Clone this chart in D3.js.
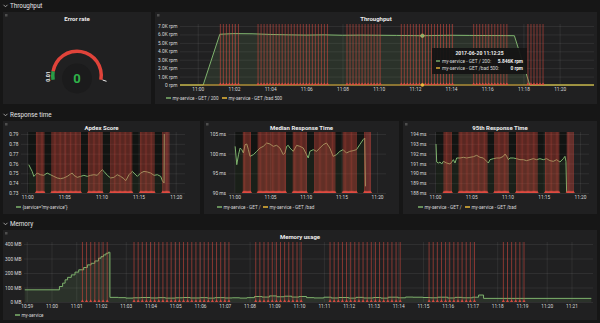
<!DOCTYPE html>
<html><head><meta charset="utf-8">
<script src="https://cdn.jsdelivr.net/npm/d3@7"></script>
<style>
body{margin:0;background:#161616;}
svg{display:block;font-family:Roboto,"Open Sans",Arial,sans-serif;}
</style>
</head><body>
<svg id="c" width="600" height="323"></svg>
<script>
// ---------- DATA (times are minutes after 2017-06-20 11:00) ----------
const errorRate = 0;
const gaugeMin = 0, gaugeMax = 0.1, gaugeThreshold = 0.01;

const tpTimes   = [-0.98, 0.3, 1.22, 2, 3, 4, 5, 6, 7, 8, 9, 10, 11, 12, 12.42, 13, 14, 15, 16, 17, 17.5, 18.35, 21.9];
const tpGet200  = [0, 0, 6.02, 6.1, 6.08, 6.0, 5.95, 5.92, 5.95, 5.9, 5.92, 5.9, 5.88, 5.86, 5.846, 5.87, 5.9, 5.88, 5.87, 5.86, 5.85, 0, 0];
const tpBadTimes = [-0.98, 21.9];
const tpBad500   = [0, 0];
const tpTicks = [0, 2, 4, 6, 8, 10, 12, 14, 16, 18, 20];
const tpYTicks = [0, 1, 2, 3, 4, 5, 6, 7];

const apdexTimes = [0.22,0.44,0.67,0.90,1.12,1.34,1.79,2.24,2.69,3.14,3.59,4.04,4.49,4.94,5.39,5.84,6.06,6.29,6.74,7.19,7.64,8.09,8.54,8.99,9.44,9.89,10.11,10.34,10.79,11.24,11.68,12.13,12.58,13.03,13.26,13.48,13.71,13.93,14.16,14.38,14.83,15.28,15.73,16.18,16.63,17.08,17.53,17.98,18.20,18.43,18.46];
const apdexValues = [0.7588,0.7554,0.7520,0.7469,0.7486,0.7503,0.7486,0.7480,0.7503,0.7486,0.7469,0.7453,0.7446,0.7453,0.7469,0.7493,0.7503,0.7480,0.7459,0.7469,0.7480,0.7469,0.7480,0.7486,0.7480,0.7520,0.7537,0.7520,0.7480,0.7453,0.7459,0.7486,0.7469,0.7446,0.7425,0.7453,0.7486,0.7503,0.7520,0.7503,0.7469,0.7503,0.7520,0.7514,0.7503,0.7480,0.7486,0.7469,0.7425,0.7402,0.7900];
const apdexYTicks = [0.73,0.74,0.75,0.76,0.77,0.78,0.79];

const medTimes = [0.10,0.33,0.57,0.80,1.03,1.26,1.49,1.73,1.96,2.19,2.66,3.12,3.59,4.05,4.52,4.99,5.45,5.92,6.38,6.85,7.08,7.32,7.55,7.78,8.25,8.72,9.18,9.65,10.11,10.35,10.58,11.05,11.51,11.98,12.45,12.91,13.38,13.84,14.31,14.78,15.24,15.71,16.17,16.64,17.11,17.57,18.04,18.27,18.37];
const medValues = [101.86,97.2,99.75,101.44,101.02,100.17,102.29,102.46,101.02,99.32,99.75,100.59,101.44,101.86,102.71,102.46,101.86,102.12,101.44,99.75,100.17,101.86,102.12,101.44,100.59,102.12,101.86,101.44,99.75,98.9,100.59,101.02,100.59,101.44,102.29,102.71,101.44,99.32,99.75,100.59,101.02,100.17,100.59,100.76,101.02,102.29,103.56,103.98,91.7];
const medYTicks = [90, 95, 100, 105];

const p95Times = [0.14,0.23,0.46,0.69,0.92,1.15,1.61,2.07,2.30,2.53,2.76,2.99,3.45,3.91,4.37,4.83,5.29,5.75,6.21,6.67,7.13,7.36,7.59,8.05,8.51,8.97,9.43,9.66,9.89,10.12,10.34,10.80,11.26,11.72,12.18,12.64,13.10,13.56,14.02,14.48,14.94,15.40,15.86,16.32,16.78,17.24,17.70,17.93,18.07,18.16];
const p95Values = [192.98,191.15,191.05,191.15,190.95,191.22,191.05,190.95,191.15,191.39,191.05,191.56,191.56,191.63,191.56,191.63,191.69,191.83,191.63,191.56,191.22,191.05,191.39,191.49,191.56,191.56,191.73,191.97,191.73,191.39,191.56,191.56,191.49,191.39,191.39,191.29,191.39,191.49,191.39,191.49,191.39,191.49,191.29,191.22,191.39,191.15,191.49,191.73,191.22,188.1];
const p95YTicks = [188,189,190,191,192,193,194];
const rtTicks = [0, 5, 10, 15, 20];

const memTimes  = [-1.08,0.32,0.45,0.55,0.65,0.8,0.95,1.1,1.3,1.45,1.6,1.75,1.9,2.0,2.1,2.2,2.3,2.36,2.7,3.0,3.3,3.6,4.0,4.3,4.6,5.0,5.3,5.6,6.0,6.3,6.6,7.0,7.3,7.6,7.9,8.2,8.5,8.8,9.1,9.4,9.7,10.0,10.3,10.6,11.0,11.3,11.6,12.0,12.3,12.6,13.0,13.3,13.6,14.0,14.3,14.6,15.0,15.3,15.6,16.0,16.3,16.6,17.0,17.25,17.45,21.8];
const memValues = [84,107,130,153,170,187,206,222,238,256,267,283,302,313,325,336,343,32,30,27,29,31,28,30,27,29,31,28,30,27,30,28,29,27,30,38,34,42,36,40,34,38,30,28,33,28,31,27,32,28,31,27,33,29,34,33,31,29,33,28,32,29,33,48,25,24];
const memYTicks = [0, 100, 200, 300, 400];
const memTicks = [-1,0,1,2,3,4,5,6,7,8,9,10,11,12,13,14,15,16,17,18,19,20,21];

// annotation events, seconds after 11:00
const annotationSecs = [75,85,95,105,115,125,135,
 200,210,220,230,240,250,260,270,280,290,300,310,320,330,340,350,360,370,380,390,400,410,420,430,
 495,505,515,525,535,545,555,565,575,585,595,605,
 675,685,695,705,715,725,735,745,755,765,775,785,795,805,815,825,835,845,
 915,925,935,945,955,965,975,985,995,1005,1015,1025,
 1095,1105,1115,1125,1135,1145];

const hoverMin = 12 + 25/60;

// ---------- RENDER ----------
const base = new Date(2017, 5, 20, 11, 0, 0).getTime();
const T = m => new Date(base + m * 60000);
const GREEN = "#7eb26d", YELLOW = "#eab839", RED = "#e24d42";
const TXT = "#d8d9da";
const AX_FS = 4.8, LEG_FS = 4.6;
const svg = d3.select("#c");
svg.append("rect").attr("width", 600).attr("height", 323).attr("fill", "#161616");

function rowHeader(y, text) {
  svg.append("path").attr("d", `M3.5,${y-1.2} L5.5,${y+0.8} L7.5,${y-1.2}`)
    .attr("fill", "none").attr("stroke", "#bbb").attr("stroke-width", 0.8);
  svg.append("text").attr("x", 10).attr("y", y).attr("dy", "0.35em")
    .attr("font-size", 6.3).attr("fill", "#e4e4e4").text(text);
}
function panel(x, y, w, h, title, titleY) {
  svg.append("rect").attr("x", x).attr("y", y).attr("width", w).attr("height", h).attr("fill", "#202021");
  svg.append("rect").attr("x", x + 2).attr("y", y + 2).attr("width", 2.5).attr("height", 2.5).attr("fill", "#4e4e4e");
  svg.append("text").attr("x", x + w / 2).attr("y", titleY).attr("dy", "0.35em")
    .attr("text-anchor", "middle").attr("font-size", 6).attr("font-weight", "bold")
    .attr("fill", "#ececec").text(title);
}
function legend(items, y) {
  items.forEach(it => {
    svg.append("line").attr("x1", it.x).attr("x2", it.x + 5).attr("y1", y).attr("y2", y)
      .attr("stroke", it.color).attr("stroke-width", 1.5);
    svg.append("text").attr("x", it.x + 6.5).attr("y", y).attr("dy", "0.35em")
      .attr("font-size", LEG_FS).attr("fill", TXT).text(it.label);
  });
}

function graph(o) {
  const x = d3.scaleTime().domain(o.tDomain.map(T)).range([o.x0, o.x1]);
  const y = d3.scaleLinear().domain(o.yDomain).range([o.y1, o.y0]);
  const g = svg.append("g");
  const xT = o.xTicks.map(T);
  if (o.band) {
    g.append("rect").attr("x", x(T(o.band[0]))).attr("y", o.y0 - 2)
      .attr("width", x(T(o.band[1])) - x(T(o.band[0]))).attr("height", o.y1 - o.y0 + 2)
      .attr("fill", "#121412");
  }
  const gy = g.append("g").attr("transform", `translate(${o.x0},0)`)
    .call(d3.axisLeft(y).tickValues(o.yTicks).tickSize(-(o.x1 - o.x0)).tickFormat(""));
  gy.select(".domain").remove();
  gy.selectAll("line").attr("stroke", "#fff").attr("stroke-opacity", 0.09).attr("stroke-width", 0.8);
  const gx = g.append("g").attr("transform", `translate(0,${o.y1})`)
    .call(d3.axisBottom(x).tickValues(xT).tickSize(-(o.y1 - o.y0 + 2)).tickFormat(""));
  gx.select(".domain").remove();
  gx.selectAll("line").attr("stroke", "#fff").attr("stroke-opacity", 0.09).attr("stroke-width", 0.8);

  o.series.forEach(s => {
    const pts = s.times.map((t, i) => [T(t), s.values[i]]);
    s.pts = pts;
    if (s.fill) {
      g.append("path").datum(pts)
        .attr("d", d3.area().x(d => x(d[0])).y0(o.y1).y1(d => y(d[1])).curve(s.curve || d3.curveLinear))
        .attr("fill", s.color).attr("fill-opacity", s.fill);
    }
  });
  o.series.forEach(s => {
    g.append("path").datum(s.pts)
      .attr("d", d3.line().x(d => x(d[0])).y(d => y(d[1])).curve(s.curve || d3.curveLinear))
      .attr("fill", "none").attr("stroke", s.color).attr("stroke-width", 1);
  });
  const ann = annotationSecs.map(s => new Date(base + s * 1000));
  g.append("g").selectAll("line").data(ann).join("line")
    .attr("x1", d => x(d)).attr("x2", d => x(d)).attr("y1", o.y0 - 2).attr("y2", o.y1)
    .attr("stroke", RED).attr("stroke-opacity", o.annOpacity).attr("stroke-width", o.annWidth || 0.9);
  g.append("g").selectAll("path").data(ann).join("path")
    .attr("d", d => `M${x(d)-1.6},${o.y1} L${x(d)},${o.y1-2.6} L${x(d)+1.6},${o.y1} Z`)
    .attr("fill", RED).attr("fill-opacity", 0.9);

  const ay = g.append("g").attr("transform", `translate(${o.x0},0)`)
    .call(d3.axisLeft(y).tickValues(o.yTicks).tickSize(0).tickPadding(o.yPad || 2.5).tickFormat(o.yFmt));
  ay.select(".domain").remove();
  ay.attr("font-size", AX_FS).attr("font-family", null).attr("color", TXT);
  const ax = g.append("g").attr("transform", `translate(0,${o.y1})`)
    .call(d3.axisBottom(x).tickValues(xT).tickSize(0).tickPadding(o.xPad || 2.5).tickFormat(d3.timeFormat("%H:%M")));
  ax.select(".domain").remove();
  ax.attr("font-size", AX_FS).attr("font-family", null).attr("color", TXT);
  return { x, y, g };
}

// ----- Row: Throughput -----
rowHeader(6, "Throughput");
panel(3, 12, 148, 92, "Error rate", 19);
panel(155, 12, 442, 92, "Throughput", 19);

// Gauge
(function () {
  const cx = 77, cy = 75.5;
  const a = d3.scaleLinear().domain([gaugeMin, gaugeMax]).range([-100 * Math.PI / 180, 100 * Math.PI / 180]);
  const arc = d3.arc().innerRadius(22.5).outerRadius(26);
  const gg = svg.append("g").attr("transform", `translate(${cx},${cy})`);
  gg.append("circle").attr("cx", 0).attr("cy", 3).attr("r", 15).attr("fill", "#1b1b1c");
  gg.append("path").attr("d", arc({ startAngle: a(gaugeMin), endAngle: a(gaugeThreshold) })).attr("fill", "#299c46");
  gg.append("path").attr("d", arc({ startAngle: a(gaugeThreshold), endAngle: a(gaugeMax) })).attr("fill", "#e0433a");
  const ang = a(gaugeMax);
  gg.append("line")
    .attr("x1", 26 * Math.sin(ang)).attr("y1", -26 * Math.cos(ang))
    .attr("x2", 30 * Math.sin(ang)).attr("y2", -30 * Math.cos(ang) + 0.6)
    .attr("stroke", "#eee").attr("stroke-width", 1);
  gg.append("text").attr("transform", "translate(-29,1) rotate(-90)")
    .attr("text-anchor", "middle").attr("dy", "0.35em").attr("font-size", 5.3)
    .attr("font-weight", "bold").attr("fill", "#eee").text(gaugeThreshold.toString());
  gg.append("text").attr("x", 0).attr("y", 3).attr("dy", "0.36em").attr("text-anchor", "middle")
    .attr("font-size", 13).attr("font-weight", "bold").attr("fill", "#2fb24a").text(errorRate);
})();

// Throughput graph
const tp = graph({
  x0: 180, x1: 594, y0: 26, y1: 85, tDomain: [-0.98, 21.9], yDomain: [0, 7],
  yTicks: tpYTicks, yFmt: d => d === 0 ? "0 rpm" : d.toFixed(1) + "K rpm", xTicks: tpTicks,
  series: [
    { times: tpTimes, values: tpGet200, color: GREEN, fill: 0.13 },
    { times: tpBadTimes, values: tpBad500, color: YELLOW, fill: 0 }
  ],
  annOpacity: 0.6, xPad: 2.5
});
legend([{ x: 166, color: GREEN, label: "my-service - GET / 200" },
        { x: 222, color: YELLOW, label: "my-service - GET /bad 500" }], 98);

// hover markers + tooltip
(function () {
  const hx = tp.x(T(hoverMin));
  svg.append("circle").attr("cx", hx).attr("cy", tp.y(5.846)).attr("r", 1.8).attr("fill", GREEN).attr("stroke", "#ddb060").attr("stroke-width", 0.6);
  svg.append("circle").attr("cx", hx).attr("cy", tp.y(0)).attr("r", 1.8).attr("fill", YELLOW);
  const tg = svg.append("g").attr("transform", "translate(432,48)");
  tg.append("rect").attr("width", 95).attr("height", 26).attr("fill", "#141414").attr("fill-opacity", 0.95);
  tg.append("text").attr("x", 47.5).attr("y", 5.5).attr("dy", "0.35em").attr("text-anchor", "middle")
    .attr("font-size", 5).attr("font-weight", "bold").attr("fill", "#f0f0f0").text("2017-06-20 11:12:25");
  const rows = [{ c: GREEN, l: "my-service - GET / 200:", v: "5.846K rpm" }, { c: YELLOW, l: "my-service - GET /bad 500:", v: "0 rpm" }];
  rows.forEach((r, i) => {
    const yy = 13 + i * 7;
    tg.append("line").attr("x1", 4).attr("x2", 8).attr("y1", yy).attr("y2", yy).attr("stroke", r.c).attr("stroke-width", 1.4);
    tg.append("text").attr("x", 10).attr("y", yy).attr("dy", "0.35em").attr("font-size", 4.8).attr("fill", TXT).text(r.l);
    tg.append("text").attr("x", 91).attr("y", yy).attr("dy", "0.35em").attr("text-anchor", "end")
      .attr("font-size", 4.8).attr("font-weight", "bold").attr("fill", "#f0f0f0").text(r.v);
  });
})();

// ----- Row: Response time -----
rowHeader(115, "Response time");
panel(3, 121, 197, 93, "Apdex Score", 128);
panel(204, 121, 195, 93, "Median Response Time", 128);
panel(403, 121, 194, 93, "95th Response Time", 128);

graph({
  x0: 21, x1: 185, y0: 134, y1: 193, tDomain: [-0.83, 21.25], yDomain: [0.73, 0.79],
  yTicks: apdexYTicks, yFmt: d3.format(".2f"), xTicks: rtTicks, band: [0.15, 18.47],
  series: [{ times: apdexTimes, values: apdexValues, color: GREEN, fill: 0.08 }],
  annOpacity: 0.55, xPad: 3
});
legend([{ x: 16, color: GREEN, label: '{service="my-service"}' }], 207);

graph({
  x0: 228.5, x1: 386, y0: 134, y1: 193, tDomain: [-0.83, 21.25], yDomain: [90, 105],
  yTicks: medYTicks, yFmt: d => d + " ms", xTicks: rtTicks, band: [0.08, 18.4],
  series: [{ times: medTimes, values: medValues, color: GREEN, fill: 0.08 }],
  annOpacity: 0.55, xPad: 3
});
legend([{ x: 217, color: GREEN, label: "my-service - GET /" },
        { x: 263, color: YELLOW, label: "my-service - GET /bad" }], 207);

graph({
  x0: 429, x1: 589, y0: 134, y1: 193, tDomain: [-0.83, 21.25], yDomain: [188, 194],
  yTicks: p95YTicks, yFmt: d => d + " ms", xTicks: rtTicks, band: [0.12, 18.18],
  series: [{ times: p95Times, values: p95Values, color: GREEN, fill: 0.08 }],
  annOpacity: 0.55, xPad: 3
});
legend([{ x: 418, color: GREEN, label: "my-service - GET /" },
        { x: 465, color: YELLOW, label: "my-service - GET /bad" }], 207);

// ----- Row: Memory -----
rowHeader(224, "Memory");
panel(3, 230, 594, 90, "Memory usage", 237);
graph({
  x0: 24, x1: 593, y0: 244, y1: 302, tDomain: [-1.11, 21.87], yDomain: [0, 400],
  yTicks: memYTicks, yFmt: d => d + " MB", xTicks: memTicks,
  series: [{ times: memTimes, values: memValues, color: GREEN, fill: 0.13, curve: d3.curveStepAfter }],
  annOpacity: 0.6, xPad: 2.5
});
legend([{ x: 15, color: GREEN, label: "my-service" }], 315);
</script>
</body></html>
